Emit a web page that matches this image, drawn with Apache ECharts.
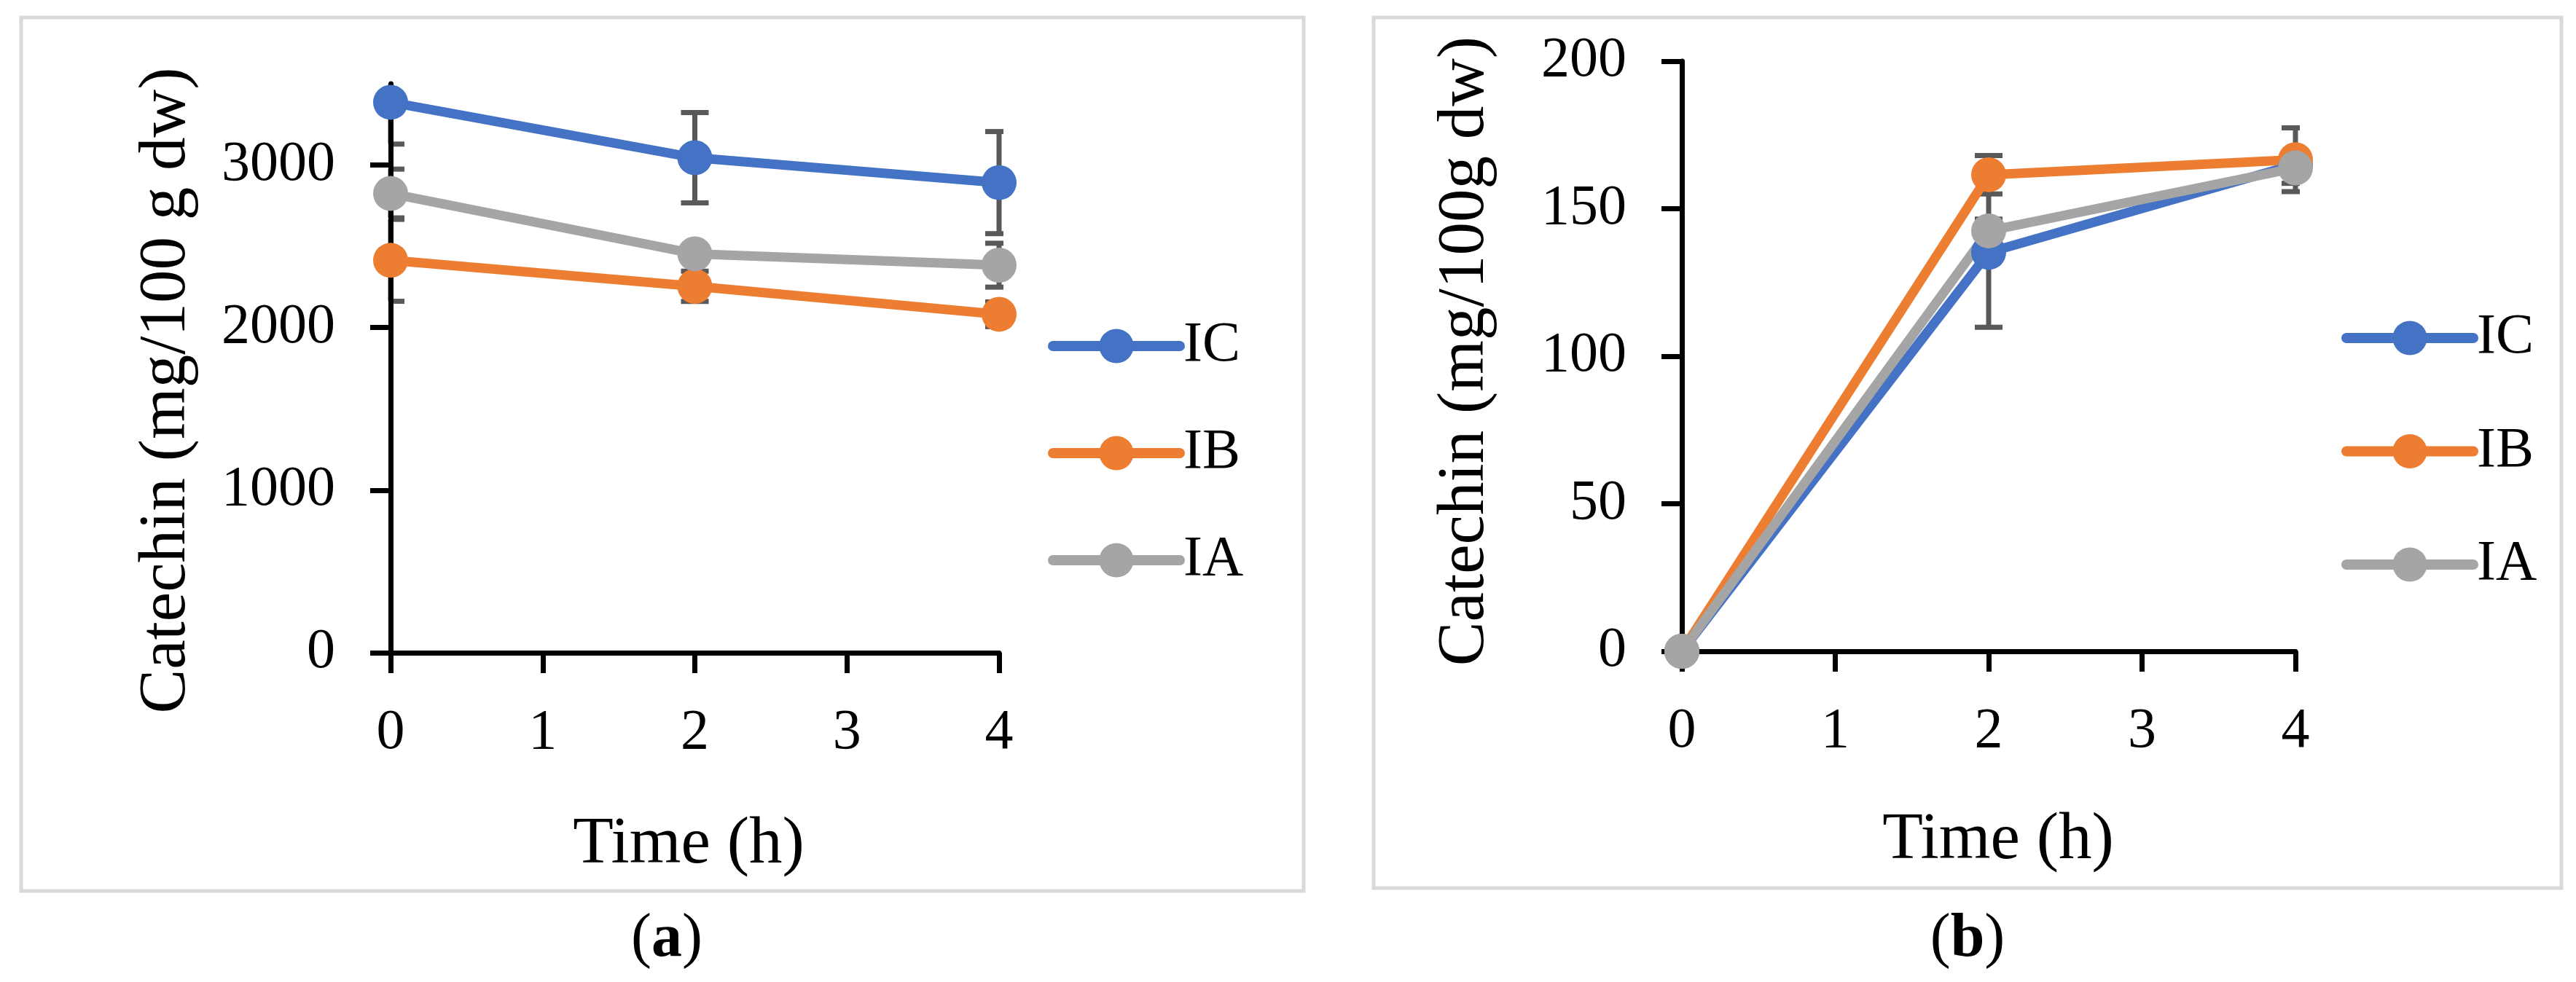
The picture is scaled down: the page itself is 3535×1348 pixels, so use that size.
<!DOCTYPE html>
<html>
<head>
<meta charset="utf-8">
<script src="https://cdn.jsdelivr.net/npm/echarts@6/dist/echarts.min.js"></script>
<style>
  html, body { margin: 0; padding: 0; background: #fff; }
  #chart { width: 3535px; height: 1348px; }
</style>
</head>
<body>
<div id="chart"></div>
<script>
// sampling times (h)
const times = [0, 2, 4];
const seriesNames = ['IC', 'IB', 'IA'];
const colors = ['#4472C4', '#ED7D31', '#A5A5A5'];

// panel (a) catechin, mg/100 g dw
const icA = [3386, 3045, 2892];
const ibA = [2414, 2254, 2082];
const iaA = [2825, 2454, 2384];
const icAErr = [257, 278, 314];
const ibAErr = [252, 93, 76];
const iaAErr = [150, 40, 135];

// panel (b) catechin, mg/100g dw
const icB = [0, 135.2, 165];
const ibB = [0, 161.5, 166.6];
const iaB = [0, 142.5, 163.8];
const icBErr = [0, 25.4, 2];
const ibBErr = [0, 6.5, 10.8];
const iaBErr = [0, 4, 5.2];

const yTicksA = [0, 1000, 2000, 3000];
const yTicksB = [0, 50, 100, 150, 200];
const xTicks = [0, 1, 2, 3, 4];

const FONT = '"Liberation Serif", "DejaVu Serif", serif';

const chart = echarts.init(document.getElementById('chart'), null, { renderer: 'canvas' });

function pairs(vals) {
  return times.map((t, i) => [t, vals[i]]);
}
function errData(vals, errs) {
  return times.map((t, i) => [t, vals[i], errs[i]]);
}

function renderErr(params, api) {
  const x = api.value(0), y = api.value(1), e = api.value(2);
  if (!e) return null;
  const cs = params.coordSys;
  const hi = api.coord([x, y + e]);
  const lo = api.coord([x, y - e]);
  const top = Math.max(hi[1], cs.y);
  const bottom = Math.min(lo[1], cs.y + cs.height);
  const half = 19;
  const l = Math.max(hi[0] - half, cs.x);
  const r = Math.min(hi[0] + half, cs.x + cs.width + 6);
  const style = { stroke: '#595959', lineWidth: 7, fill: null };
  const kids = [{ type: 'line', shape: { x1: hi[0], y1: top, x2: hi[0], y2: bottom }, style: style }];
  if (hi[1] >= cs.y) kids.push({ type: 'line', shape: { x1: l, y1: hi[1], x2: r, y2: hi[1] }, style: style });
  if (lo[1] <= cs.y + cs.height) kids.push({ type: 'line', shape: { x1: l, y1: lo[1], x2: r, y2: lo[1] }, style: style });
  return { type: 'group', children: kids };
}

function xAxisFor(gridIndex) {
  return {
    gridIndex: gridIndex, type: 'value', min: 0, max: 4, interval: 1,
    axisLine: { show: true, onZero: false, lineStyle: { color: '#000', width: 7 } },
    axisTick: { show: true, inside: false, length: 28, lineStyle: { color: '#000', width: 7 } },
    axisLabel: { fontFamily: FONT, fontSize: 78, color: '#000', margin: 72, customValues: xTicks },
    splitLine: { show: false },
    z: 1.5
  };
}

function yAxisFor(gridIndex, max, interval, ticks) {
  return {
    gridIndex: gridIndex, type: 'value', min: 0, max: max, interval: interval,
    axisLine: { show: true, onZero: false, lineStyle: { color: '#000', width: 7 } },
    axisTick: { show: true, inside: false, length: 28, lineStyle: { color: '#000', width: 7 }, customValues: ticks },
    axisLabel: { fontFamily: FONT, fontSize: 78, color: '#000', margin: 76, customValues: ticks,
      formatter: v => String(v) },
    splitLine: { show: false },
    z: 1.5
  };
}

const lineSets = [
  [icA, ibA, iaA],
  [icB, ibB, iaB]
];
const errSets = [
  [icAErr, ibAErr, iaAErr],
  [icBErr, ibBErr, iaBErr]
];

const series = [];
lineSets.forEach((set, g) => {
  set.forEach((vals, k) => {
    series.push({
      name: seriesNames[k] + ' error', type: 'custom', xAxisIndex: g, yAxisIndex: g,
      renderItem: renderErr, data: errData(vals, errSets[g][k]), z: 1,
      silent: true, legendHoverLink: false, clip: false
    });
  });
  set.forEach((vals, k) => {
    series.push({
      name: seriesNames[k], type: 'line', xAxisIndex: g, yAxisIndex: g,
      data: pairs(vals), color: colors[k],
      symbol: 'circle', symbolSize: 48, showAllSymbol: true,
      lineStyle: { width: 13, color: colors[k] },
      itemStyle: { color: colors[k] },
      clip: false, z: 2, animation: false
    });
  });
});

function legendFor(left, top, gap) {
  return {
    orient: 'vertical', left: left, top: top,
    data: seriesNames.slice(),
    itemWidth: 174, itemHeight: 59, itemGap: gap,
    selectedMode: false,
    lineStyle: { width: 14, cap: 'round' },
    textStyle: { fontFamily: FONT, fontSize: 78, color: '#000' }
  };
}

function titleText(text, x, y, rotate) {
  return {
    type: 'text', x: x, y: y, rotation: rotate ? Math.PI / 2 : 0, silent: true,
    style: { text: text, fontFamily: FONT, fontSize: 91, fill: '#000', align: 'center', verticalAlign: 'middle' }
  };
}

function panelLabel(letter, x) {
  return {
    type: 'text', x: x, y: 1290, silent: true,
    style: { text: '{n|(}{b|' + letter + '}{n|)}', align: 'center', verticalAlign: 'middle',
      rich: {
        n: { fontFamily: FONT, fontSize: 84, fill: '#000' },
        b: { fontFamily: FONT, fontSize: 84, fontWeight: 'bold', fill: '#000' }
      } }
  };
}

const option = {
  backgroundColor: '#fff',
  animation: false,
  grid: [
    { left: 536, top: 115, width: 835, height: 781, outerBoundsMode: 'none' },
    { left: 2308, top: 84, width: 842, height: 810, outerBoundsMode: 'none' }
  ],
  xAxis: [xAxisFor(0), xAxisFor(1)],
  yAxis: [yAxisFor(0, 3500, 1000, yTicksA), yAxisFor(1, 200, 50, yTicksB)],
  legend: [legendFor(1433, 431, 69), legendFor(3208, 420, 77.5)],
  graphic: [
    { type: 'rect', shape: { x: 29, y: 24, width: 1760, height: 1199 },
      style: { fill: null, stroke: '#d9d9d9', lineWidth: 5 }, silent: true },
    { type: 'rect', shape: { x: 1885, y: 24, width: 1630, height: 1195 },
      style: { fill: null, stroke: '#d9d9d9', lineWidth: 5 }, silent: true },
    titleText('Catechin (mg/100 g dw)', 229, 536, true),
    titleText('Catechin (mg/100g dw)', 2011, 482, true),
    titleText('Time (h)', 945, 1160, false),
    titleText('Time (h)', 2742, 1154, false),
    panelLabel('a', 915),
    panelLabel('b', 2700)
  ],
  series: series
};

chart.setOption(option);
</script>
</body>
</html>
